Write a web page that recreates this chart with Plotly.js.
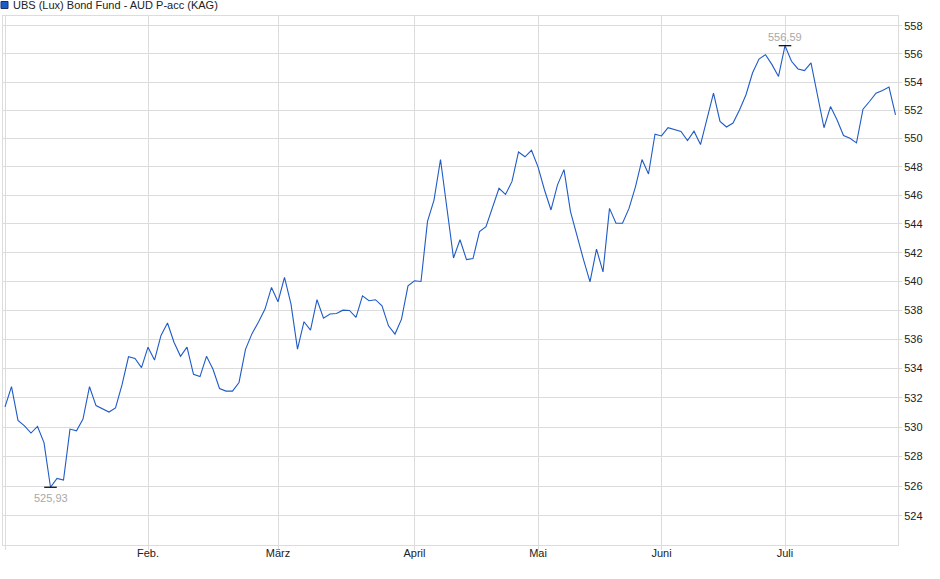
<!DOCTYPE html>
<html>
<head>
<meta charset="utf-8">
<script src="https://cdn.plot.ly/plotly-3.0.1.min.js"></script>
<style>
  html, body { margin: 0; padding: 0; background: #fff; }
  #chart { width: 940px; height: 579px; }
</style>
</head>
<body>
<div id="chart"></div>
<script>
// fund name and NAV series, one value per trading day
const seriesName = "UBS (Lux) Bond Fund - AUD P-acc (KAG)";

const navValues = [
  531.38, 532.76, 530.46, 530.09, 529.60, 530.05, 528.95, 525.93, 526.53, 526.41,
  529.87, 529.75, 530.55, 532.76, 531.47, 531.24, 531.03, 531.31, 532.88, 534.81,
  534.70, 534.07, 535.47, 534.58, 536.28, 537.13, 535.81, 534.84, 535.47, 533.61,
  533.45, 534.84, 533.95, 532.64, 532.46, 532.46, 533.05, 535.32, 536.40, 537.20,
  538.09, 539.59, 538.60, 540.28, 538.44, 535.34, 537.22, 536.64, 538.74, 537.47,
  537.75, 537.79, 538.02, 538.00, 537.52, 539.01, 538.67, 538.74, 538.32, 536.94,
  536.37, 537.40, 539.70, 540.05, 540.00, 544.18, 545.67, 548.52, 545.00, 541.63,
  542.90, 541.52, 541.59, 543.47, 543.82, 545.21, 546.50, 546.07, 546.98, 549.05,
  548.71, 549.17, 548.00, 546.38, 544.98, 546.74, 547.81, 544.86, 543.13, 541.52,
  539.98, 542.25, 540.67, 545.09, 544.05, 544.05, 545.09, 546.62, 548.52, 547.50,
  550.30, 550.18, 550.76, 550.64, 550.50, 549.86, 550.52, 549.57, 551.37, 553.21,
  551.21, 550.81, 551.09, 552.02, 553.10, 554.64, 555.64, 555.95, 555.24, 554.40,
  556.59, 555.48, 554.93, 554.81, 555.36, 552.98, 550.76, 552.26, 551.33, 550.21,
  550.02, 549.69, 552.07, 552.62, 553.21, 553.40, 553.64, 551.67
];

// month axis: first trading day index of each month
const monthStart  = [0, 22, 42, 63, 82, 101, 120];
const monthLabels = ["", "Feb.", "März", "April", "Mai", "Juni", "Juli"];

// price ticks on the right
const priceTicks = [524, 526, 528, 530, 532, 534, 536, 538, 540, 542, 544, 546, 548, 550, 552, 554, 556, 558];

const LINE  = "#1f5bc6";
const GRID  = "#dcdcdc";
const TEXT  = "#222222";
const LABEL = "#a8a8a8";

const xIdx = navValues.map((_, i) => i);

// high / low of the period
let hiIdx = 0, loIdx = 0;
navValues.forEach((v, i) => {
  if (v > navValues[hiIdx]) hiIdx = i;
  if (v < navValues[loIdx]) loIdx = i;
});
const fmt = v => v.toFixed(2).replace(".", ",");

// plot area in pixels (used for the little legend box above the plot)
const W = 940, H = 579;
const M = { l: 3, r: 42, t: 16, b: 34 };
const pw = W - M.l - M.r, ph = H - M.t - M.b;
const px = x => (x - M.l) / pw;
const py = y => 1 + (M.t - y) / ph;

const traces = [
  {
    type: "scatter",
    mode: "lines",
    x: xIdx,
    y: navValues,
    line: { color: LINE, width: 1.1 },
    hoverinfo: "skip",
    showlegend: false
  },
  {
    type: "scatter",
    mode: "markers",
    x: [loIdx, hiIdx],
    y: [navValues[loIdx], navValues[hiIdx]],
    marker: { symbol: "line-ew", size: 9, line: { color: "#000", width: 1.2 } },
    hoverinfo: "skip",
    showlegend: false
  }
];

const layout = {
  width: W,
  height: H,
  margin: M,
  paper_bgcolor: "#fff",
  plot_bgcolor: "#fff",
  font: { family: "Liberation Sans, Arial, sans-serif", size: 11, color: TEXT },
  separators: ",.",
  showlegend: false,
  xaxis: {
    range: [-2 / 6.5, 893 / 6.5],
    tickvals: monthStart,
    ticktext: monthLabels,
    showgrid: true,
    gridcolor: GRID,
    gridwidth: 1,
    zeroline: false,
    showline: true,
    mirror: true,
    linecolor: GRID,
    ticks: "outside",
    ticklen: 4,
    tickcolor: GRID,
    ticklabelstandoff: -6,
    tickfont: { size: 11, color: TEXT },
    fixedrange: true
  },
  yaxis: {
    type: "log",
    range: [2.71771, 2.74719],
    side: "right",
    tickvals: priceTicks,
    ticktext: priceTicks.map(String),
    showgrid: true,
    gridcolor: GRID,
    gridwidth: 1,
    zeroline: false,
    showline: true,
    mirror: true,
    linecolor: GRID,
    ticks: "outside",
    ticklen: 3,
    tickcolor: GRID,
    tickfont: { size: 11, color: TEXT },
    fixedrange: true
  },
  shapes: [
    // legend swatch
    {
      type: "rect", xref: "paper", yref: "paper",
      x0: px(1), x1: px(8), y0: py(8.5), y1: py(1.5),
      fillcolor: LINE, line: { color: "#1a3070", width: 1 }
    }
  ],
  annotations: [
    {
      xref: "paper", yref: "paper", x: px(11), y: py(5.5),
      xanchor: "left", yanchor: "middle", showarrow: false,
      text: seriesName, font: { size: 11, color: TEXT }
    },
    {
      x: loIdx, y: Math.log10(navValues[loIdx]),
      text: fmt(navValues[loIdx]), showarrow: false,
      yanchor: "middle", yshift: -11,
      font: { size: 11, color: LABEL }
    },
    {
      x: hiIdx, y: Math.log10(navValues[hiIdx]),
      text: fmt(navValues[hiIdx]), showarrow: false,
      yanchor: "middle", yshift: 9,
      font: { size: 11, color: LABEL }
    }
  ]
};

Plotly.newPlot("chart", traces, layout, { staticPlot: true, displayModeBar: false });
</script>
</body>
</html>
